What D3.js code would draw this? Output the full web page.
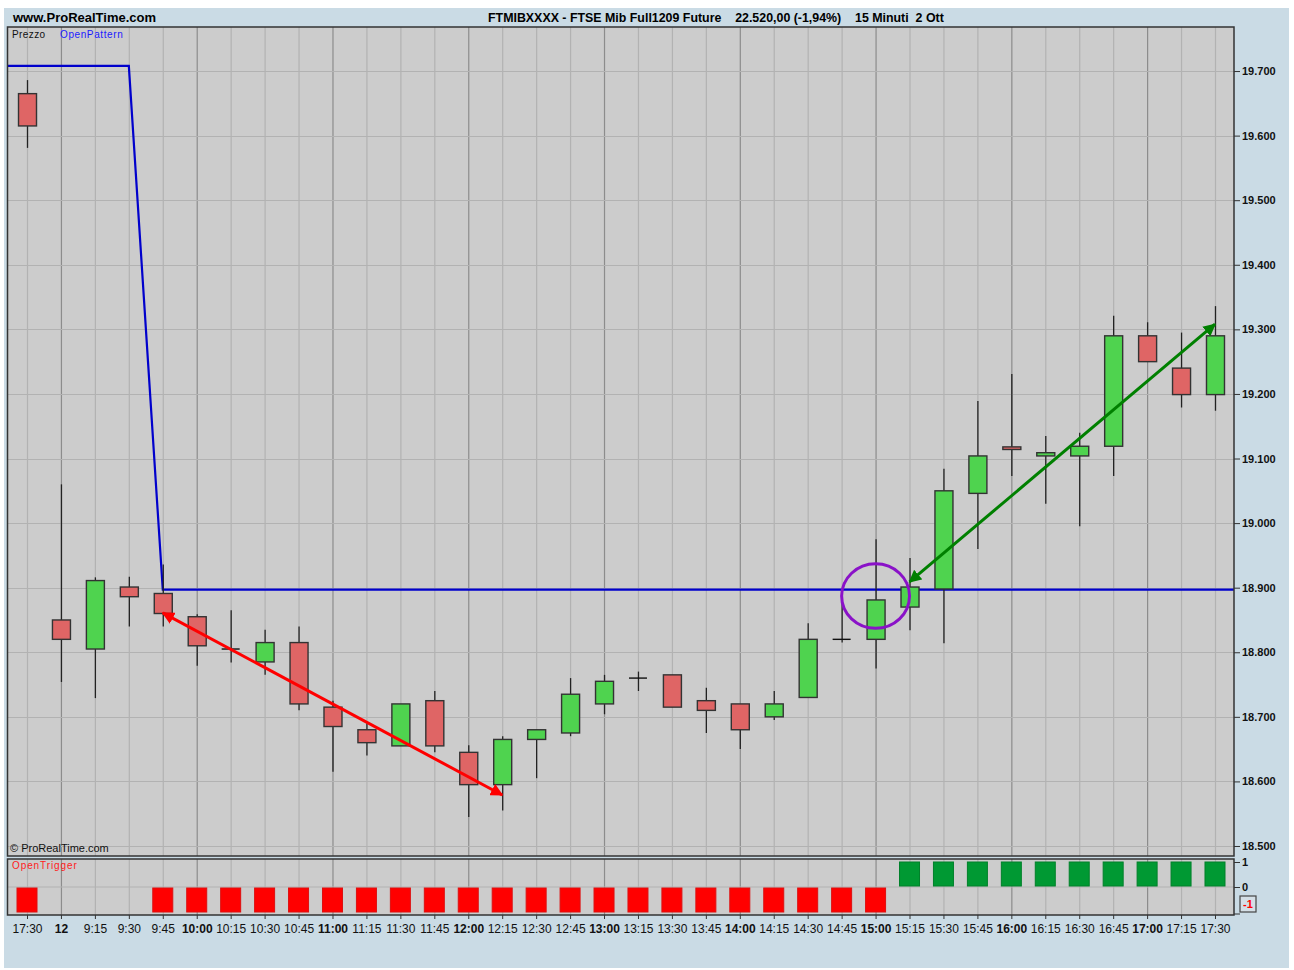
<!DOCTYPE html>
<html>
<head>
<meta charset="utf-8">
<script src="https://cdn.jsdelivr.net/npm/d3@7"></script>
<style>
  body { margin: 0; background: #fff; }
  svg { display: block; font-family: "Liberation Sans", Arial, sans-serif; }
</style>
</head>
<body>
<div id="chart"></div>
<script>
// bar labels (15 min bars, previous close + 2 Ott session)
var times = ["17:30","12","9:15","9:30","9:45","10:00","10:15","10:30","10:45","11:00","11:15","11:30","11:45",
  "12:00","12:15","12:30","12:45","13:00","13:15","13:30","13:45","14:00","14:15","14:30","14:45",
  "15:00","15:15","15:30","15:45","16:00","16:15","16:30","16:45","17:00","17:15","17:30"];
var hourBars = [1,5,9,13,17,21,25,29,33];

var opens  = [19665,18850,18805,18901,18891,18855,18805,18785,18815,18715,18680,18655,18725,18645,18595,18665,18675,18720,
  18760,18765,18725,18720,18700,18730,18820,18820,18870,18898,19046,19118,19104,19104,19119,19290,19240,19199];
var highs  = [19686,19060,18916,18917,18936,18859,18865,18835,18840,18725,18690,18720,18740,18656,18670,18680,18760,18765,
  18770,18765,18745,18720,18740,18845,18875,18975,18946,19084,19189,19231,19135,19140,19321,19311,19295,19336];
var lows   = [19581,18754,18729,18840,18840,18779,18784,18765,18710,18615,18640,18655,18645,18545,18555,18605,18670,18704,
  18740,18715,18675,18650,18695,18730,18815,18775,18834,18814,18960,19073,19030,18995,19073,19250,19179,19174];
var closes = [19615,18820,18911,18886,18860,18810,18805,18815,18720,18685,18660,18720,18655,18595,18665,18680,18735,18755,
  18760,18715,18710,18680,18720,18820,18820,18881,18901,19050,19104,19114,19109,19119,19290,19250,19199,19290];

// OpenPattern indicator level
var openPattern = [19708,19708,19708,19708,18897,18897,18897,18897,18897,18897,18897,18897,18897,18897,18897,18897,18897,18897,
  18897,18897,18897,18897,18897,18897,18897,18897,18897,18897,18897,18897,18897,18897,18897,18897,18897,18897];
// OpenTrigger histogram
var openTrigger = [-1,0,0,0,-1,-1,-1,-1,-1,-1,-1,-1,-1,-1,-1,-1,-1,-1,-1,-1,-1,-1,-1,-1,-1,-1,1,1,1,1,1,1,1,1,1,1];

var priceTicks = [18500,18600,18700,18800,18900,19000,19100,19200,19300,19400,19500,19600,19700];
var triggerTicks = [1,0,-1];

// hand drawn annotations: [bar, price]
var redArrow = [[4,18861],[14,18579]];
var greenArrow = [[26,18909],[35,19308]];
var circleMark = {bar: 25, price: 18887, halfBars: 1, halfPrice: 50};

var W = 1294, H = 970;
var left = 8, right = 1234;
var pTop = 27, pBot = 856, tTop = 859, tBot = 915;

var svg = d3.select("#chart").append("svg").attr("width", W).attr("height", H);

svg.append("rect").attr("x", 4).attr("y", 8).attr("width", 1285).attr("height", 960).attr("fill", "#cadbe5");

var x = d3.scalePoint().domain(d3.range(times.length)).range([left, right]).padding(0.56);
var y = d3.scaleLinear().domain([18484.5, 19768.2]).range([pBot, pTop]);
var yt = d3.scaleLinear().domain([-1.12, 1.12]).range([tBot, tTop]);

// header
svg.append("text").attr("x", 13).attr("y", 22).attr("font-size", 13).attr("font-weight", "bold")
  .text("www.ProRealTime.com");
svg.append("text").attr("x", 488).attr("y", 22).attr("font-size", 12.4).attr("font-weight", "bold")
  .attr("xml:space", "preserve")
  .text("FTMIBXXXX - FTSE Mib Full1209 Future    22.520,00 (-1,94%)    15 Minuti  2 Ott");

// panels
function panel(top, bot) {
  svg.append("rect").attr("x", left).attr("y", top).attr("width", right - left).attr("height", bot - top)
    .attr("fill", "#cccccc");
}
panel(pTop, pBot);
panel(tTop, tBot);

function vgrid(top, bot) {
  svg.append("g").selectAll("line").data(d3.range(times.length)).join("line")
    .attr("x1", function(i) { return x(i) + 0.5; }).attr("x2", function(i) { return x(i) + 0.5; })
    .attr("y1", top).attr("y2", bot)
    .attr("stroke", function(i) { return hourBars.indexOf(i) >= 0 ? "#8c8c8c" : "#b2b2b2"; })
    .attr("stroke-width", 1.2);
}
vgrid(pTop, pBot);
vgrid(tTop, tBot);

svg.append("g").selectAll("line").data(priceTicks).join("line")
  .attr("x1", left).attr("x2", right)
  .attr("y1", function(d) { return Math.round(y(d)) + 0.5; }).attr("y2", function(d) { return Math.round(y(d)) + 0.5; })
  .attr("stroke", "#b2b2b2").attr("stroke-width", 1.2);
svg.append("line").attr("x1", left).attr("x2", right).attr("y1", yt(0)).attr("y2", yt(0))
  .attr("stroke", "#b2b2b2").attr("stroke-width", 1.2);

// clip for price panel
svg.append("clipPath").attr("id", "pclip").append("rect")
  .attr("x", left).attr("y", pTop).attr("width", right - left).attr("height", pBot - pTop);

var plot = svg.append("g").attr("clip-path", "url(#pclip)");

// OpenPattern line
var pts = openPattern.map(function(v, i) { return [x(i), y(v)]; });
pts.unshift([left, y(openPattern[0])]);
pts.push([right, y(openPattern[openPattern.length - 1])]);
plot.append("path").attr("d", d3.line()(pts)).attr("fill", "none")
  .attr("stroke", "#0000cc").attr("stroke-width", 2.2);

// candles
var bw = 18;
var candles = plot.append("g").selectAll("g").data(d3.range(times.length)).join("g");
candles.append("line")
  .attr("x1", function(i) { return x(i) + 0.5; }).attr("x2", function(i) { return x(i) + 0.5; })
  .attr("y1", function(i) { return y(highs[i]); }).attr("y2", function(i) { return y(lows[i]); })
  .attr("stroke", "#222").attr("stroke-width", 1.3);
candles.filter(function(i) { return opens[i] !== closes[i]; }).append("rect")
  .attr("x", function(i) { return x(i) - bw / 2 + 0.5; })
  .attr("y", function(i) { return y(Math.max(opens[i], closes[i])); })
  .attr("width", bw)
  .attr("height", function(i) { return Math.max(2, y(Math.min(opens[i], closes[i])) - y(Math.max(opens[i], closes[i]))); })
  .attr("fill", function(i) { return closes[i] > opens[i] ? "#4fd34f" : "#df6565"; })
  .attr("stroke", "#333").attr("stroke-width", 1.4);
candles.filter(function(i) { return opens[i] === closes[i]; }).append("line")
  .attr("x1", function(i) { return x(i) - bw / 2; }).attr("x2", function(i) { return x(i) + bw / 2; })
  .attr("y1", function(i) { return y(opens[i]); }).attr("y2", function(i) { return y(opens[i]); })
  .attr("stroke", "#111").attr("stroke-width", 1.4);

// annotations
var defs = svg.append("defs");
function marker(id, color) {
  defs.append("marker").attr("id", id).attr("viewBox", "0 0 10 10").attr("refX", 9).attr("refY", 5)
    .attr("markerWidth", 4.2).attr("markerHeight", 4.2).attr("markerUnits", "strokeWidth")
    .attr("orient", "auto-start-reverse")
    .append("path").attr("d", "M0,0L10,5L0,10z").attr("fill", color);
}
marker("mred", "#ff0000");
marker("mgreen", "#008000");
function arrow(a, color, id) {
  plot.append("line")
    .attr("x1", x(a[0][0])).attr("y1", y(a[0][1]))
    .attr("x2", x(a[1][0])).attr("y2", y(a[1][1]))
    .attr("stroke", color).attr("stroke-width", 3)
    .attr("marker-start", "url(#" + id + ")").attr("marker-end", "url(#" + id + ")");
}
arrow(redArrow, "#ff0000", "mred");
arrow(greenArrow, "#008000", "mgreen");

plot.append("ellipse")
  .attr("cx", x(circleMark.bar)).attr("cy", y(circleMark.price))
  .attr("rx", x(circleMark.bar + circleMark.halfBars) - x(circleMark.bar))
  .attr("ry", y(circleMark.price - circleMark.halfPrice) - y(circleMark.price))
  .attr("fill", "none").attr("stroke", "#8a12c8").attr("stroke-width", 3);

// OpenTrigger bars
svg.append("g").selectAll("rect").data(d3.range(times.length).filter(function(i) { return openTrigger[i] !== 0; })).join("rect")
  .attr("x", function(i) { return x(i) - 10; })
  .attr("y", function(i) { return openTrigger[i] > 0 ? yt(1) : yt(0) + 1; })
  .attr("width", 20)
  .attr("height", function(i) { return openTrigger[i] > 0 ? yt(0) - yt(1) - 1 : yt(-1) - yt(0) - 1; })
  .attr("fill", function(i) { return openTrigger[i] > 0 ? "#009933" : "#ff0000"; })
  .attr("stroke", function(i) { return openTrigger[i] > 0 ? "#00802a" : "#dd1010"; })
  .attr("stroke-width", 1);

// panel borders
function border(top, bot) {
  svg.append("rect").attr("x", left - 0.5).attr("y", top).attr("width", right - left + 0.5).attr("height", bot - top)
    .attr("fill", "none").attr("stroke", "#333").attr("stroke-width", 1.5);
}
border(pTop, pBot);
border(tTop, tBot);

// labels inside panels
svg.append("text").attr("x", 12).attr("y", 38).attr("font-size", 10).attr("letter-spacing", 0.4).attr("fill", "#111").text("Prezzo");
svg.append("text").attr("x", 60).attr("y", 38).attr("font-size", 10).attr("letter-spacing", 0.6).attr("fill", "#1a1aff").text("OpenPattern");
svg.append("text").attr("x", 10).attr("y", 852).attr("font-size", 11).attr("fill", "#111").text("\u00A9 ProRealTime.com");
svg.append("text").attr("x", 12).attr("y", 869).attr("font-size", 10).attr("letter-spacing", 0.9).attr("fill", "#ff2020").text("OpenTrigger");

// price axis
var fmt = function(d) { return d3.format(",.3f")(d / 1000).replace(",", ""); };
var pAxis = svg.append("g").attr("transform", "translate(" + right + ",0)")
  .call(d3.axisRight(y).tickValues(priceTicks).tickSize(6).tickPadding(2).tickFormat(fmt));
pAxis.select(".domain").remove();
pAxis.selectAll("line").attr("stroke", "#333");
pAxis.selectAll("text").attr("font-family", "\"Liberation Sans\", Arial, sans-serif")
  .attr("font-size", 11).attr("font-weight", "bold").attr("fill", "#111");

// trigger axis
var tAxis = svg.append("g").attr("transform", "translate(" + right + ",0)")
  .call(d3.axisRight(yt).tickValues([1, 0]).tickSize(6).tickPadding(2).tickFormat(d3.format("d")));
tAxis.select(".domain").remove();
tAxis.selectAll("line").attr("stroke", "#333");
tAxis.selectAll("text").attr("font-family", "\"Liberation Sans\", Arial, sans-serif")
  .attr("font-size", 11).attr("font-weight", "bold").attr("fill", "#111");
svg.append("line").attr("x1", right).attr("x2", right + 6).attr("y1", yt(-1) + 2).attr("y2", yt(-1) + 2).attr("stroke", "#333");
svg.append("rect").attr("x", right + 6).attr("y", yt(-1) - 16).attr("width", 16).attr("height", 16)
  .attr("fill", "#d4dfe6").attr("stroke", "#444").attr("stroke-width", 1.2);
svg.append("text").attr("x", right + 14).attr("y", yt(-1) - 4).attr("text-anchor", "middle")
  .attr("font-size", 11).attr("font-weight", "bold").attr("fill", "#ff0000").text(triggerTicks[2]);

// time axis
var xAxis = svg.append("g").attr("transform", "translate(0," + tBot + ")")
  .call(d3.axisBottom(x).tickSize(4).tickPadding(5).tickFormat(function(i) { return times[i]; }));
xAxis.select(".domain").remove();
xAxis.selectAll("line").attr("stroke", "#333");
xAxis.selectAll("text").attr("font-family", "\"Liberation Sans\", Arial, sans-serif")
  .attr("font-size", 12).attr("fill", "#111")
  .attr("font-weight", function(i) { return hourBars.indexOf(i) >= 0 ? "bold" : "normal"; });
</script>
</body>
</html>
